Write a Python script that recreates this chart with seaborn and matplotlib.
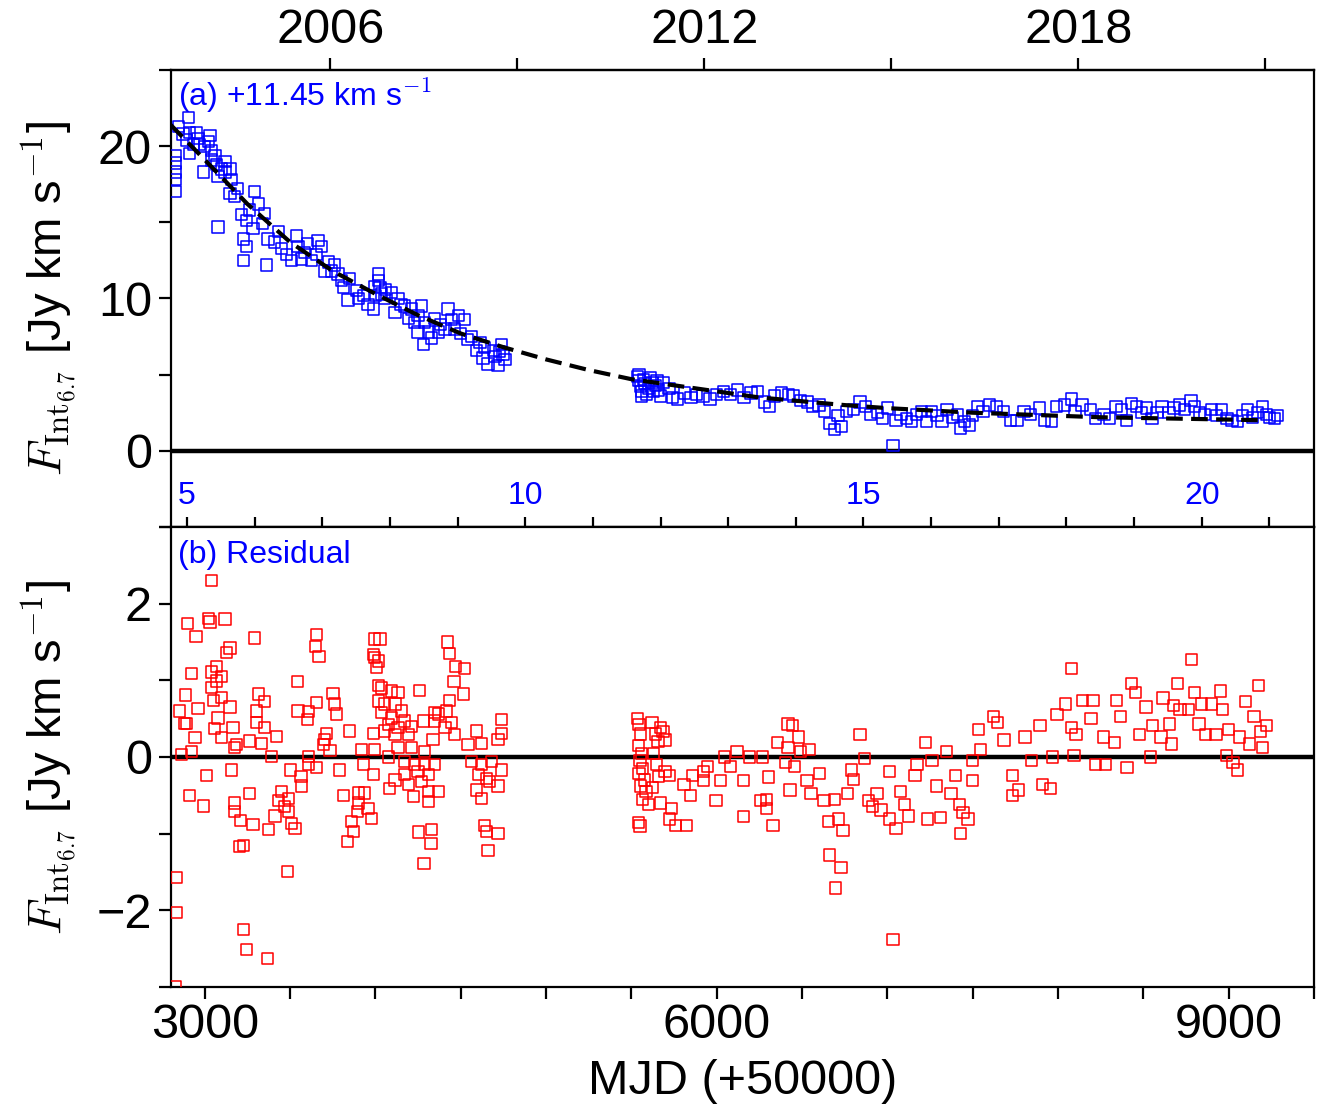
import numpy as np
import pandas as pd
import seaborn as sns
import matplotlib
matplotlib.use('Agg')
import matplotlib.pyplot as plt

# ---- data (MJD - 50000) ----
flux_mjd = [2825, 2825, 2825, 2825, 2825, 2903, 2844, 2873, 2912, 2951, 2893, 2932,
            2912, 2961, 3030, 3020, 3039, 2971, 2991, 3039, 3069, 3118, 3078, 3147,
            3118, 3157, 3147, 3176, 3078, 3293, 3264, 3313, 3215, 3244, 3352, 3283,
            3225, 3244, 3225, 3362, 3371, 3430, 3410, 3450, 3479, 3537, 3547, 3586,
            3664, 3655, 3684, 3508, 3567, 3625, 3723, 3762, 3703, 3742, 3801, 3850,
            3811, 3840, 3899, 3889, 3957, 3987, 4016, 4016, 4026, 4035, 3996, 4055,
            4094, 4133, 4172, 4114, 4211, 4250, 4192, 4270, 4289, 4250, 4309, 4280,
            4328, 4368, 4348, 4426, 4446, 4485, 4524, 4407, 4465, 4563, 4612, 4592,
            4641, 4631, 4660, 4719, 4738, 4729, 4690, 4748,
            3000, 3060, 3100, 3190, 3340, 3600, 3780, 3930, 4000, 4060, 4150, 4230,
            4380, 4500, 4540, 4700, 4760,
            5535, 5545, 5555, 5560, 5570, 5580, 5590, 5600, 5610, 5620, 5630, 5640,
            5650, 5660, 5670, 5545, 5560,
            5690, 5720, 5740, 5770, 5810, 5850, 5880, 5920, 5960, 6000, 6040, 6080,
            6120, 6160, 6200, 6240, 6280, 6310, 6340, 6380, 6420, 6450, 6490, 6530,
            6560, 6600, 6630, 6660, 6690, 6710, 6730, 6760, 6800, 6840, 6870, 6900,
            6940, 6970, 7000, 7033, 7050, 7080, 7110, 7140, 7170, 7200, 7230, 7260,
            7290, 7320, 7350, 7380, 7410, 7430, 7450, 7480, 7500, 7530, 7560, 7600,
            7640, 7680, 7720, 7760, 7800, 7840, 7890, 7920, 7960, 7990, 8040, 8080,
            8100, 8140, 8190, 8220, 8270, 8300, 8340, 8370, 8400, 8430, 8460, 8490,
            8520, 8550, 8580, 8610, 8650, 8680, 8710, 8740, 8780, 8800, 8830, 8860,
            8900, 8930, 8960, 8990, 9020, 9050, 9080, 9110, 9140, 9170, 9200, 9220,
            9240, 9270, 9285]
flux_val = [19.4, 18.9, 18.3, 17.8, 17.0, 21.9, 21.3, 20.8, 20.9, 20.9, 20.4, 20.1,
            19.5, 20.5, 20.7, 20.3, 19.7, 20.1, 18.3, 19.1, 18.8, 19.0, 18.0, 18.5,
            18.3, 17.8, 16.9, 16.7, 14.7, 17.0, 15.8, 16.2, 15.5, 15.1, 15.6, 14.6,
            13.9, 13.4, 12.5, 12.2, 13.9, 14.4, 13.7, 13.3, 12.9, 14.1, 13.4, 13.0,
            13.8, 12.9, 13.4, 12.5, 12.6, 12.5, 12.4, 12.2, 11.8, 11.8, 11.2, 11.3,
            10.7, 9.9, 10.0, 10.5, 9.6, 9.3, 11.6, 11.2, 10.7, 10.3, 10.8, 10.0,
            10.4, 10.0, 9.5, 9.1, 9.3, 8.9, 8.7, 9.5, 8.4, 7.8, 7.8, 7.0,
            7.4, 7.8, 8.7, 9.3, 8.6, 8.9, 8.6, 8.0, 8.0, 7.5, 7.1, 6.6,
            6.8, 6.1, 5.7, 5.6, 7.0, 6.5, 6.6, 6.3,
            20.0, 19.4, 18.5, 17.2, 14.9, 13.6, 11.6, 10.2, 10.2, 10.6, 9.6, 8.4,
            8.3, 7.7, 7.3, 6.2, 6.0,
            4.9, 4.6, 4.2, 3.9, 4.7, 4.4, 3.7, 4.1, 4.8, 4.5, 3.9, 4.3,
            4.6, 4.0, 3.6, 5.0, 3.6,
            4.5, 4.1, 3.5, 3.4, 3.8, 3.5, 3.7, 3.6, 3.4, 3.7, 3.9, 3.7,
            4.0, 3.5, 3.8, 3.9, 3.2, 2.9, 3.6, 3.8, 3.7, 3.6, 3.3, 3.2,
            2.9, 3.0, 2.6, 1.8, 1.4, 2.3, 1.6, 2.6, 2.7, 3.2, 2.9, 2.4,
            2.5, 2.1, 2.8, 0.35, 2.0, 2.4, 2.1, 1.9, 2.4, 2.6, 1.9, 2.6,
            2.3, 1.9, 2.7, 2.2, 2.4, 1.5, 1.9, 1.7, 2.3, 2.9, 2.6, 3.0,
            2.9, 2.6, 2.0, 2.0, 2.6, 2.4, 2.8, 2.0, 1.95, 2.9, 3.0, 3.4,
            2.6, 3.0, 2.7, 2.1, 2.4, 2.1, 2.9, 2.7, 2.0, 3.1, 2.9, 2.5,
            2.8, 2.1, 2.5, 2.9, 2.5, 2.8, 3.0, 2.7, 3.3, 2.9, 2.5, 2.4,
            2.7, 2.3, 2.7, 2.1, 2.0, 1.9, 2.3, 2.7, 2.2, 2.5, 2.9, 2.4,
            2.2, 2.1, 2.3]

fit_mjd = [2800, 3000, 3250, 3500, 3750, 4000, 4250, 4500, 4750, 5000, 5250, 5500,
           5750, 6000, 6250, 6500, 6750, 7000, 7250, 7500, 7750, 8000, 8250, 8500,
           8750, 9000, 9220]
fit_val = [21.4, 19.1, 16.2, 13.7, 11.8, 10.3, 8.9, 7.7, 6.8, 6.0, 5.3, 4.7,
           4.3, 3.9, 3.5, 3.25, 3.0, 2.8, 2.65, 2.5, 2.4, 2.3, 2.2, 2.15,
           2.1, 2.05, 2.0]

res_mjd = [3039, 2899, 2948, 3020, 3030, 3118, 3293, 3655, 3649, 3670, 3147, 3127,
           3069, 3039, 3098, 3069, 3039, 2922, 2889, 2850, 2883, 2893, 2961, 3049,
           3098, 3147, 3078, 3059, 3166, 3098, 2942, 2864, 2922, 3186, 3176, 3264,
           3313, 3352, 3303, 3303, 3352, 3420, 3332, 3391, 3543, 3547, 3606, 3602,
           3655, 3752, 3762, 3772, 3713, 3703, 3694, 3733, 3850, 3918, 3996, 3928,
           3987, 3996, 4026, 3996, 4016, 4006, 3987, 4016, 4035, 4094, 4133, 4260,
           4016, 4055, 4114, 4153, 4035, 4094, 4172, 4075, 4133, 4211, 3987, 4055,
           4114, 4192, 4280, 4348, 4338, 4133, 4211, 4289, 4075, 4172, 4231, 4289,
           4348, 4172, 4250, 4309, 4192, 4270, 4221, 4309, 4368, 4309, 4084, 4114,
           4254, 4328, 4325, 4285, 4422, 4432, 4471, 4524, 4461, 4514, 4432, 4368,
           4416, 4446, 4407, 4465, 4348, 4592, 4543, 4621, 4719, 4738, 4738, 4563,
           4621, 4680, 4738, 4602, 4651, 4719, 4592, 4621, 4670, 4641, 4651, 4719,
           4660, 3010, 3157, 2909, 2991, 3176, 3176, 3211, 3283, 3264, 3225, 3205,
           3375, 3483, 2834, 2834, 3225, 3244, 3367, 2825, 3504, 3563, 3567, 3606,
           3655, 3606, 3450, 3489, 3430, 3469, 3489, 3411, 3508, 3528, 3791, 3811,
           3899, 3938, 3899, 3895, 3957, 3977, 3860, 3870, 3836,
           5535, 5545, 5555, 5540, 5560, 5550, 5565, 5545, 5575, 5555, 5585, 5565,
           5600, 5540, 5550, 5620, 5640, 5655, 5630, 5645, 5660, 5625, 5670,
           5685, 5697, 5697, 5722, 5672, 5734, 5759, 5821, 5722, 5809, 5846, 5858,
           5921, 5921, 5995, 5945, 6020, 6045, 6082, 6119, 6156, 6156, 6194, 6268,
           6256, 6293, 6293, 6330, 6305, 6355, 6417, 6442, 6479, 6417, 6491, 6405,
           6454, 6429, 6541, 6529, 6553, 6603, 6628, 6660, 6728, 6698, 6653, 6715,
           6740, 6690, 6765, 6802, 6790, 6839, 6864, 6889, 6914, 6939, 6963, 7013,
           7013, 7050, 7075, 7100, 7124, 7162, 7174, 7224, 7236, 7261, 7286, 7311,
           7348, 7373, 7398, 7423, 7428, 7443, 7472, 7497, 7497, 7033, 7535, 7547,
           7621, 7646, 7684, 7733, 7733, 7770, 7807, 7845, 7894, 7907, 7957, 7969,
           7994, 8044, 8081, 8081, 8106, 8093, 8143, 8205, 8193, 8218, 8280, 8268,
           8342, 8330, 8367, 8404, 8429, 8454, 8478, 8516, 8541, 8553, 8615, 8603,
           8665, 8653, 8678, 8702, 8715, 8765, 8784, 8801, 8826, 8839, 8864, 8901,
           8926, 8951, 8963, 8988, 9000, 9025, 9050, 9062, 9099, 9124, 9149, 9174,
           9186, 9199, 9223]
res_val = [2.30, 1.74, 1.57, 1.81, 1.76, 1.80, 1.55, 1.60, 1.44, 1.31, 1.42, 1.36,
           1.18, 1.11, 1.05, 0.99, 0.91, 1.09, 0.81, 0.60, 0.44, 0.44, 0.63, 0.74,
           0.78, 0.65, 0.51, 0.37, 0.38, 0.25, 0.25, 0.03, 0.07, 0.16, 0.12, 0.21,
           0.82, 0.72, 0.60, 0.45, 0.38, 0.27, 0.18, 0.01, 0.98, 0.60, 0.59, 0.49,
           0.71, 0.83, 0.69, 0.56, 0.31, 0.23, 0.16, 0.08, 0.34, 0.10, 0.10, -0.10,
           -0.23, 1.54, 1.54, 1.30, 1.25, 1.17, 1.34, 0.93, 0.90, 0.86, 0.84, 0.87,
           0.73, 0.69, 0.69, 0.60, 0.58, 0.51, 0.47, 0.42, 0.38, 0.40, 0.31, 0.34,
           0.29, 0.29, 0.47, 0.58, 0.23, 0.12, 0.12, 0.07, 0.00, -0.06, -0.10, -0.10,
           -0.10, -0.23, -0.19, -0.23, -0.36, -0.32, -0.52, -0.45, -0.45, -0.58, -0.41, -0.30,
           -0.98, -0.95, -1.13, -1.39, 1.50, 1.35, 1.18, 1.15, 0.98, 0.82, 0.74, 0.56,
           0.60, 0.45, 0.38, 0.29, 0.47, 0.34, 0.16, 0.18, 0.23, 0.49, 0.31, -0.06,
           -0.10, -0.06, -0.17, -0.23, -0.28, -0.38, -0.43, -0.54, -0.32, -0.89, -0.97, -1.00,
           -1.22, -0.24, -0.17, -0.50, -0.64, -0.60, -0.71, -0.83, -0.88, -0.48, -1.15, -1.17,
           -0.95, -1.49, -1.57, -2.03, -2.25, -2.51, -2.63, -2.99, -0.17, -0.25, -0.38, -0.10,
           -0.14, 0.01, -0.45, -0.54, -0.57, -0.65, -0.71, -0.77, -0.87, -0.93, -0.17, -0.50,
           -0.47, -0.47, -0.60, -0.71, -0.67, -0.80, -0.84, -0.97, -1.10,
           0.50, 0.42, 0.30, 0.15, 0.05, -0.05, -0.15, -0.22, -0.30, -0.38, -0.45, -0.55,
           -0.62, -0.85, -0.90, 0.45, 0.30, 0.20, 0.05, -0.10, -0.25, -0.40, 0.38,
           0.33, 0.22, -0.19, -0.24, -0.60, -0.67, -0.89, -0.89, -0.81, -0.36, -0.50, -0.24,
           -0.31, -0.19, -0.57, -0.12, -0.31, 0.00, -0.12, 0.07, -0.31, -0.78, 0.00, 0.00,
           -0.57, -0.67, -0.55, -0.89, -0.26, 0.19, 0.43, 0.41, 0.26, 0.12, 0.07, -0.07,
           -0.12, -0.43, 0.10, -0.31, -0.48, -0.22, -0.57, -1.28, -1.44, -1.71, -0.84, -0.81,
           -0.96, -0.55, -0.48, -0.29, -0.17, 0.29, -0.02, -0.57, -0.65, -0.48, -0.69, -0.19,
           -0.81, -0.93, -0.45, -0.62, -0.77, -0.24, -0.10, 0.19, -0.81, -0.05, -0.38, -0.79,
           0.07, -0.48, -0.24, -0.62, -1.00, -0.72, -0.81, -0.31, -0.05, -2.38, 0.36, 0.10,
           0.53, 0.45, 0.22, -0.50, -0.24, -0.43, 0.26, -0.05, 0.41, -0.36, -0.41, 0.00,
           0.55, 0.69, 1.15, 0.38, 0.29, 0.02, 0.74, 0.74, 0.50, -0.10, -0.10, 0.26,
           0.74, 0.19, 0.53, -0.14, 0.96, 0.84, 0.29, 0.65, 0.00, 0.41, 0.77, 0.26,
           0.17, 0.43, 0.67, 0.96, 0.62, 0.62, 1.27, 0.84, 0.43, 0.69, 0.29, 0.69,
           0.29, 0.86, 0.62, 0.02, 0.36, -0.07, -0.17, 0.26, 0.72, 0.17, 0.53, 0.93,
           0.33, 0.12, 0.41]

year_ticks = [2006, 2009, 2012, 2015, 2018, 2021]
year_labels = ['2006', '', '2012', '', '2018', '']
cycle_ticks = list(range(5, 22))
cycle_labels = [str(c) if c % 5 == 0 else '' for c in cycle_ticks]
mjd_ticks = [3000, 6000, 9000]
mjd_minor = [3500, 4000, 4500, 5000, 5500, 6500, 7000, 7500, 8000, 8500, 9500]

top = pd.DataFrame({'mjd': flux_mjd, 'flux': flux_val})
fit = pd.DataFrame({'mjd': fit_mjd, 'flux': fit_val})
res = pd.DataFrame({'mjd': res_mjd, 'res': res_val})

# epoch / period of the cycle counter and calendar conversion
P_CYC = 396.4
T0_CYC = 914.0


def mjd_to_year(m):
    return 2000.0 + (np.asarray(m) + 50000 - 51544.5) / 365.25


def year_to_mjd(y):
    return (np.asarray(y) - 2000.0) * 365.25 + 51544.5 - 50000


def mjd_to_cycle(m):
    return (np.asarray(m) - T0_CYC) / P_CYC


def cycle_to_mjd(c):
    return np.asarray(c) * P_CYC + T0_CYC


sns.set_theme(style='ticks')
plt.rcParams['font.family'] = ['Liberation Sans', 'DejaVu Sans']
plt.rcParams['mathtext.fontset'] = 'cm'
plt.rcParams['axes.linewidth'] = 1.6
plt.rcParams['axes.edgecolor'] = 'black'
plt.rcParams['text.color'] = 'black'
plt.rcParams['axes.labelcolor'] = 'black'
plt.rcParams['xtick.color'] = 'black'
plt.rcParams['ytick.color'] = 'black'

fig = plt.figure(figsize=(13.25, 11.11), dpi=100)
ax1 = fig.add_axes([0.1288, 0.5257, 0.8629, 0.4113])
ax2 = fig.add_axes([0.1288, 0.1116, 0.8629, 0.4141])

tick_kw = dict(direction='out', length=8.5, width=1.6, color='black',
               labelsize=35, labelcolor='black')

# ---- panel (a) ----
sns.scatterplot(data=top, x='mjd', y='flux', ax=ax1, marker='s', s=66,
                facecolor='none', edgecolor='blue', linewidth=1.1, zorder=3)
sns.lineplot(data=fit, x='mjd', y='flux', ax=ax1, color='black', lw=3.0,
             linestyle=(0, (4.0, 2.0)), zorder=4)
ax1.axhline(0, color='black', lw=3.2, zorder=2)
ax1.set_xlim(2800, 9500)
ax1.set_ylim(-5, 25)
ax1.set_yticks([0, 10, 20])
ax1.set_yticks([-5, 5, 15, 25], minor=True)
ax1.tick_params(axis='y', which='both', right=False, pad=5, **tick_kw)
ax1.tick_params(axis='x', which='both', bottom=False, top=False,
                labelbottom=False, labeltop=False)
ax1.set_xlabel('')
ax1.set_ylabel(r'$F_{\mathrm{Int}_{6.7}}$ [Jy km s$^{-1}$]', fontsize=34)
ax1.yaxis.set_label_coords(-0.08, 0.5)

sec_top = ax1.secondary_xaxis('top', functions=(mjd_to_year, year_to_mjd))
sec_top.set_xticks(year_ticks, year_labels)
sec_top.tick_params(axis='x', pad=4, **tick_kw)
sec_top.spines['top'].set_linewidth(1.6)

sec_cyc = ax1.secondary_xaxis('bottom', functions=(mjd_to_cycle, cycle_to_mjd))
sec_cyc.set_xticks(cycle_ticks, cycle_labels)
sec_cyc.tick_params(axis='x', direction='in', length=7, width=1.6, color='black',
                    pad=-33, labelsize=23, labelcolor='blue')
sec_cyc.spines['bottom'].set_linewidth(1.6)

ax1.text(0.006, 0.985, r'(a) +11.45 km s$^{\mathsf{-1}}$', transform=ax1.transAxes,
         color='blue', fontsize=23, ha='left', va='top')

# ---- panel (b) ----
sns.scatterplot(data=res, x='mjd', y='res', ax=ax2, marker='s', s=66,
                facecolor='none', edgecolor='red', linewidth=1.1, zorder=3)
ax2.axhline(0, color='black', lw=3.2, zorder=2)
ax2.set_xlim(2800, 9500)
ax2.set_ylim(-3, 3)
ax2.set_yticks([-2, 0, 2])
ax2.set_yticks([-3, -1, 1, 3], minor=True)
ax2.set_xticks(mjd_ticks)
ax2.set_xticks(mjd_minor, minor=True)
ax2.tick_params(axis='y', which='both', right=False, pad=5, **tick_kw)
ax2.tick_params(axis='x', which='both', top=False, pad=3, **tick_kw)
ax2.set_xlabel('MJD (+50000)', fontsize=35, labelpad=8, color='black')
ax2.set_ylabel(r'$F_{\mathrm{Int}_{6.7}}$ [Jy km s$^{-1}$]', fontsize=34)
ax2.yaxis.set_label_coords(-0.08, 0.5)

ax2.text(0.006, 0.972, '(b) Residual', transform=ax2.transAxes,
         color='blue', fontsize=23, ha='left', va='top')

fig.savefig('out.png', dpi=100)
